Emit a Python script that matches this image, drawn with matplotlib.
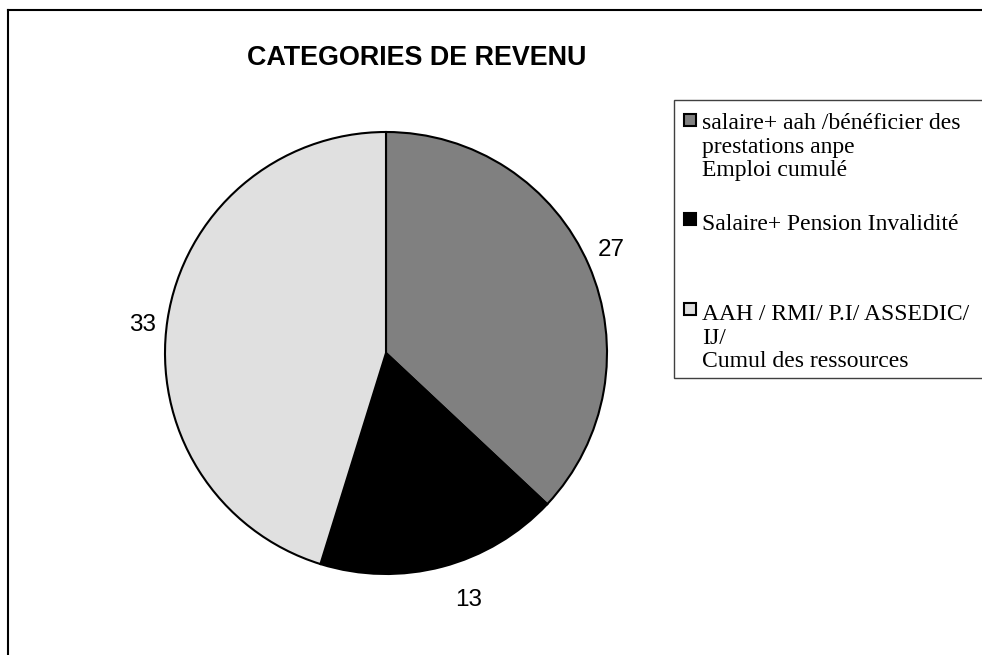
import matplotlib
matplotlib.use("Agg")
import matplotlib.pyplot as plt
from matplotlib.patches import Rectangle
from matplotlib.lines import Line2D
import numpy as np

categories = [
    "salaire+ aah /bénéficier des\nprestations anpe\nEmploi cumulé",
    "Salaire+ Pension Invalidité",
    "AAH / RMI/ P.I/ ASSEDIC/\nIJ/\nCumul des ressources",
]
values = [27, 13, 33]
colors = ["#808080", "#000000", "#e0e0e0"]
label_dist = [1.12, 1.18, 1.11]
label_ang_shift = [1.2, 3.6, 2.0]
title = "CATEGORIES DE REVENU"

W, H = 982, 655
fig = plt.figure(figsize=(W / 100, H / 100), dpi=100)

def fx(px):
    return px / W

def fy(py):
    return 1 - py / H

# outer border (left and top only visible)
fig.add_artist(Line2D([fx(8), fx(8)], [fy(10), fy(H + 5)], color="black", lw=1.5, transform=fig.transFigure))
fig.add_artist(Line2D([fx(8), fx(W + 5)], [fy(10), fy(10)], color="black", lw=1.5, transform=fig.transFigure))

# pie axes
cx, cy, r = 386, 353, 221
ax = fig.add_axes([fx(cx - r), fy(cy + r), 2 * r / W, 2 * r / H])
wedges, texts = ax.pie(values, colors=colors, startangle=90, counterclock=False,
                       wedgeprops=dict(edgecolor="black", linewidth=1.5),
                       labels=[str(v) for v in values], labeldistance=1.1,
                       textprops=dict(fontsize=17.5, family="Liberation Sans"))
for w, t, d, s in zip(wedges, texts, label_dist, label_ang_shift):
    ang = np.deg2rad((w.theta1 + w.theta2) / 2 + s)
    t.set_position((d * np.cos(ang), d * np.sin(ang)))
    t.set_ha("center")
    t.set_va("center")
ax.set_xlim(-1, 1)
ax.set_ylim(-1, 1)
ax.set_aspect("equal")
ax.axis("off")

fig.text(fx(417), fy(58), title, ha="center", va="center", fontsize=19.4,
         fontweight="bold", family="Liberation Sans")

# legend box
lx0, ly0, ly1 = 674, 100, 378
fig.add_artist(Rectangle((fx(lx0), fy(ly1)), fx(W + 20 - lx0), (ly1 - ly0) / H,
                         transform=fig.transFigure, facecolor="white",
                         edgecolor="#404040", lw=1.0, clip_on=False))
entry_top = [113, 214, 304]
marker_center = [120, 219, 309]
for lab, col, yt, mc in zip(categories, colors, entry_top, marker_center):
    fig.add_artist(Rectangle((fx(684), fy(mc + 6)), 12 / W, 12 / H,
                             transform=fig.transFigure, facecolor=col,
                             edgecolor="black", lw=1.5))
    fig.text(fx(702), fy(yt), lab, ha="left", va="top", fontsize=17,
             family="Liberation Serif", linespacing=1.16)

fig.savefig("out.png", dpi=100)
